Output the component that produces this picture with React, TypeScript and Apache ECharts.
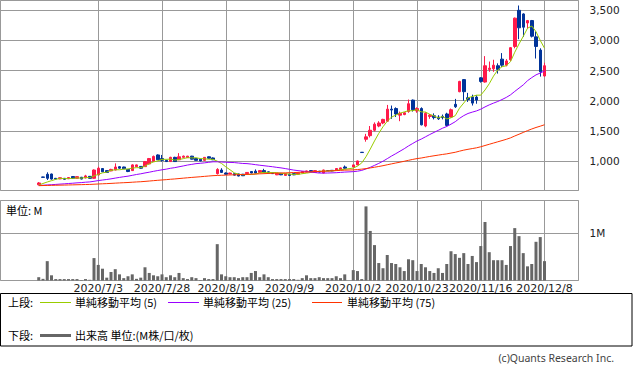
import React, { useEffect, useRef } from "react";
import * as echarts from "echarts";

// Trading days shown (2020), month -> days
const tradingDays: [number, number[]][] = [
  [6, [15, 16, 17, 18, 19, 22, 23, 24, 25, 26, 29, 30]],
  [7, [1, 2, 3, 6, 7, 8, 9, 10, 13, 14, 15, 16, 17, 20, 21, 22, 27, 28, 29, 30, 31]],
  [8, [3, 4, 5, 6, 7, 11, 12, 13, 14, 17, 18, 19, 20, 21, 24, 25, 26, 27, 28, 31]],
  [9, [1, 2, 3, 4, 7, 8, 9, 10, 11, 14, 15, 16, 17, 18, 23, 24, 25, 28, 29, 30]],
  [10, [1, 2, 5, 6, 7, 8, 9, 12, 13, 14, 15, 16, 19, 20, 21, 22, 23, 26, 27, 28, 29, 30]],
  [11, [2, 4, 5, 6, 9, 10, 11, 12, 13, 16, 17, 18, 19, 20, 24, 25, 26, 27, 30]],
  [12, [1, 2, 3, 4, 7, 8]],
];
// date labels shown on the x axis
const tickLabels = ["2020/7/3", "2020/7/28", "2020/8/19", "2020/9/9", "2020/10/2", "2020/10/23", "2020/11/16", "2020/12/8"];

const opens = [
  605, 735, 779, 784, 712, 702, 712, 705, 742, 712,
  730, 718, 745, 712, 768, 875, 840, 835, 850, 905,
  900, 860, 840, 905, 910, 906, 950, 990, 1100, 1040,
  1010, 990, 1060, 1020, 1060, 1055, 1080, 1040, 1030, 1010,
  1070, 1050, 790, 850, 800, 785, 790, 785, 780, 790,
  825, 830, 810, 840, 820, 800, 770, 795, 760, 780,
  790, 780, 800, 815, 840, 810, 830, 800, 840, 845,
  845, 855, 900, null, 900, 935, 1145, 1360, 1420, 1510,
  1580, 1630, 1660, 1860, 1870, 1760, 1770, 1820, 2010, 1830,
  1870, 1580, 1740, 1750, 1730, 1740, 1780, 1730, 1940, 2150,
  2350, 2050, 2060, 2060, 2380, 2310, 2520, 2530, 2580, 2690,
  2590, 2680, 2900, 3500, 3440, 3290, 3330, 3060, 2840, 2410,
];
const closes = [
  635, 728, 712, 700, 700, 722, 696, 725, 712, 740,
  700, 752, 712, 850, 880, 820, 810, 860, 900, 880,
  870, 825, 935, 935, 880, 990, 1040, 1075, 1020, 1010,
  990, 1060, 990, 1070, 1080, 1080, 1030, 1010, 1000, 1060,
  1045, 1020, 860, 810, 780, 800, 765, 750, 755, 810,
  800, 800, 840, 810, 800, 790, 795, 770, 790, 760,
  770, 800, 825, 835, 820, 840, 815, 850, 838, 835,
  875, 885, 880, null, 935, 1000, 1140, 1400, 1510, 1610,
  1630, 1690, 1860, 1845, 1780, 1790, 1800, 1950, 1850, 1870,
  1600, 1790, 1760, 1720, 1700, 1720, 1590, 1850, 1900, 2320,
  2150, 2020, 1960, 2010, 2320, 2580, 2540, 2590, 2520, 2590,
  2660, 2880, 3370, 3210, 3220, 3330, 3070, 2900, 2480, 2580,
];
const lows = [
  598, 724, 685, 690, 692, 698, 688, 700, 705, 708,
  695, 712, 705, 705, 760, 815, 805, 830, 845, 870,
  865, 815, 835, 900, 870, 900, 945, 985, 1015, 990,
  985, 985, 985, 1015, 1055, 1050, 1025, 1005, 995, 1005,
  1040, 1015, 775, 800, 770, 780, 760, 745, 750, 785,
  795, 795, 805, 805, 795, 785, 765, 765, 755, 755,
  765, 775, 795, 810, 815, 800, 810, 795, 835, 830,
  840, 850, 870, null, 895, 930, 1138, 1320, 1390, 1490,
  1560, 1610, 1650, 1700, 1730, 1660, 1760, 1800, 1820, 1800,
  1590, 1560, 1700, 1690, 1680, 1690, 1570, 1720, 1880, 2140,
  2000, 1980, 1920, 1950, 2300, 2300, 2480, 2480, 2450, 2560,
  2570, 2660, 2870, 3020, 3060, 3200, 3050, 2700, 2400, 2400,
];
const highs = [
  650, 738, 812, 790, 718, 728, 716, 730, 748, 745,
  735, 770, 750, 860, 905, 880, 845, 870, 960, 915,
  905, 865, 945, 940, 915, 1000, 1050, 1090, 1110, 1100,
  1020, 1070, 1070, 1130, 1090, 1085, 1085, 1045, 1035, 1065,
  1075, 1060, 880, 880, 810, 805, 795, 790, 785, 815,
  830, 860, 845, 870, 825, 805, 800, 800, 795, 785,
  795, 805, 830, 840, 850, 845, 835, 855, 845, 850,
  880, 890, 925, null, 940, 1005, 1148, 1450, 1580, 1640,
  1660, 1700, 1930, 1920, 1890, 1820, 1810, 2020, 2020, 1890,
  1890, 1810, 1780, 1790, 1760, 1770, 1800, 1870, 2030, 2330,
  2360, 2130, 2100, 2090, 2390, 2740, 2650, 2680, 2620, 2790,
  2690, 2890, 3380, 3580, 3450, 3340, 3340, 3150, 2870, 2630,
];
// volume in millions of shares
const volumes = [
  0.07, 0.035, 0.41, 0.11, 0.03, 0.03, 0.03, 0.03, 0.03, 0.03,
  0.01, 0.03, 0.015, 0.475, 0.33, 0.25, 0.06, 0.18, 0.24, 0.13,
  0.05, 0.09, 0.13, 0.035, 0.06, 0.28, 0.16, 0.11, 0.09, 0.13,
  0.07, 0.11, 0.07, 0.16, 0.05, 0.03, 0.07, 0.05, 0.01, 0.05,
  0.03, 0.03, 0.77, 0.13, 0.09, 0.07, 0.07, 0.05, 0.07, 0.07,
  0.16, 0.2, 0.07, 0.13, 0.07, 0.03, 0.03, 0.03, 0.03, 0.03,
  0.03, 0.015, 0.05, 0.11, 0.05, 0.05, 0.07, 0.05, 0.05, 0.05,
  0.09, 0.05, 0.13, null, 0.22, 0.2, 0.03, 1.57, 1.05, 0.75,
  0.37, 0.26, 0.54, 0.37, 0.35, 0.28, 0.2, 0.45, 0.43, 0.2,
  0.35, 0.28, 0.2, 0.16, 0.26, 0.16, 0.35, 0.62, 0.56, 0.48,
  0.58, 0.35, 0.52, 0.39, 0.73, 1.24, 0.6, 0.43, 0.43, 0.43,
  0.33, 0.73, 1.11, 0.94, 0.58, 0.3, 0.35, 0.82, 0.92, 0.41,
];
// level the long moving averages start from (pre-listing)
const maSeedPrice = 590;
const maPeriods = [5, 25, 75];
const maColors = ["#99cc00", "#9900ff", "#ff3300"];

const PAD_LEFT = 9;
const PAD_RIGHT = 8;
const RED = "#ff1a4a";
const BLUE = "#003399";
const GRID = "#999999";

function movingAverage(n: number): (number | string)[] {
  const valid: number[] = [];
  return closes.map((c) => {
    if (c == null) return "-";
    valid.push(c);
    let sum = 0;
    for (let k = 0; k < n; k++) {
      const j = valid.length - 1 - k;
      sum += j >= 0 ? valid[j] : maSeedPrice;
    }
    return Math.round((sum / n) * 100) / 100;
  });
}

export default function App() {
  const ref = useRef<HTMLDivElement>(null);
  useEffect(() => {
    if (!ref.current) return;
    const chart = echarts.init(ref.current, null, { renderer: "svg" });

    const dates: string[] = [];
    tradingDays.forEach(([m, ds]) => ds.forEach((d) => dates.push(`2020/${m}/${d}`)));
    const cats: string[] = [];
    for (let i = 0; i < PAD_LEFT; i++) cats.push(`_l${i}`);
    dates.forEach((d) => cats.push(d));
    for (let i = 0; i < PAD_RIGHT; i++) cats.push(`_r${i}`);

    const labelSet = new Set(tickLabels);
    const showAt = (_i: number, v: string) => labelSet.has(v);
    const pad = (arr: any[]) => {
      const out: any[] = [];
      for (let i = 0; i < PAD_LEFT; i++) out.push("-");
      arr.forEach((v) => out.push(v));
      for (let i = 0; i < PAD_RIGHT; i++) out.push("-");
      return out;
    };
    const candles = pad(
      opens.map((o, i) =>
        o == null ? ["-", "-", "-", "-"] : [o, closes[i], lows[i], highs[i]]
      )
    );
    const vols = pad(volumes.map((v) => (v == null ? "-" : v)));

    const jp = '"Noto Sans CJK JP", "Noto Sans", sans-serif';
    const legendText = (x: number, y: number, text: string) => ({
      type: "text",
      x,
      y,
      silent: true,
      style: { text, fontSize: 11, fontFamily: jp, fill: "#000", verticalAlign: "middle", align: "left" },
    });
    const legendLine = (x1: number, x2: number, y: number, color: string, w: number) => ({
      type: "line",
      silent: true,
      shape: { x1, y1: y, x2, y2: y },
      style: { stroke: color, lineWidth: w },
    });

    const option: any = {
      animation: false,
      backgroundColor: "#ffffff",
      textStyle: { fontFamily: "DejaVu Sans" },
      grid: [
        { left: 0.5, top: 0.5, width: 578, height: 190, show: true, borderColor: GRID, borderWidth: 1 },
        { left: 0.5, top: 200.5, width: 578, height: 80, show: true, borderColor: GRID, borderWidth: 1 },
      ],
      xAxis: [
        {
          type: "category",
          gridIndex: 0,
          data: cats,
          boundaryGap: false,
          axisLine: { show: false },
          axisTick: { show: false },
          axisLabel: { show: false },
          splitLine: { show: true, interval: showAt, lineStyle: { color: GRID, width: 1 } },
        },
        {
          type: "category",
          gridIndex: 1,
          data: cats,
          boundaryGap: false,
          axisLine: { show: false },
          axisTick: { show: false },
          axisLabel: { show: true, interval: showAt, margin: 2, fontSize: 11, color: "#222" },
          splitLine: { show: true, interval: showAt, lineStyle: { color: GRID, width: 1 } },
        },
      ],
      yAxis: [
        {
          type: "value",
          gridIndex: 0,
          position: "right",
          min: 510,
          max: 3663,
          splitNumber: 5,
          axisLine: { show: false },
          axisTick: { show: false },
          axisLabel: {
            margin: 11,
            fontSize: 10.5,
            color: "#222",
            showMinLabel: false,
            showMaxLabel: false,
            formatter: (v: number) => v.toLocaleString("en-US"),
          },
          splitLine: { show: true, lineStyle: { color: GRID, width: 1 } },
        },
        {
          type: "value",
          gridIndex: 1,
          position: "right",
          min: 0,
          max: 1.695,
          interval: 1,
          axisLine: { show: false },
          axisTick: { show: false },
          axisLabel: {
            margin: 11,
            fontSize: 10.5,
            color: "#222",
            showMinLabel: false,
            showMaxLabel: false,
            formatter: (v: number) => (v === 1 ? "1M" : ""),
          },
          splitLine: { show: true, lineStyle: { color: GRID, width: 1 } },
        },
      ],
      series: [
        {
          type: "candlestick",
          xAxisIndex: 0,
          yAxisIndex: 0,
          data: candles,
          barWidth: 3,
          silent: true,
          itemStyle: { color: RED, color0: BLUE, borderColor: RED, borderColor0: BLUE, borderWidth: 1 },
          z: 2,
        },
        ...maPeriods.map((n, k) => ({
          type: "line",
          xAxisIndex: 0,
          yAxisIndex: 0,
          data: pad(movingAverage(n)),
          symbol: "none",
          connectNulls: true,
          silent: true,
          lineStyle: { color: maColors[k], width: 1 },
          z: 3,
        })),
        {
          type: "bar",
          xAxisIndex: 1,
          yAxisIndex: 1,
          data: vols,
          barWidth: 3,
          silent: true,
          itemStyle: { color: "#666666" },
        },
      ],
      graphic: [
        {
          type: "rect",
          silent: true,
          shape: { x: 0.5, y: 293.5, width: 631.5, height: 52.5 },
          style: { fill: "none", stroke: "#000", lineWidth: 1 },
        },
        legendText(8, 302, "上段:"),
        legendLine(40, 71, 302.5, maColors[0], 1),
        legendText(75, 302, "単純移動平均 (5)"),
        legendLine(168, 199, 302.5, maColors[1], 1),
        legendText(203, 302, "単純移動平均 (25)"),
        legendLine(312, 342, 302.5, maColors[2], 1),
        legendText(347, 302, "単純移動平均 (75)"),
        legendText(8, 335, "下段:"),
        legendLine(40, 71, 335.5, "#666666", 3),
        legendText(75, 335, "出来高 単位:(M株/口/枚)"),
        legendText(6, 210, "単位: M"),
        {
          type: "text",
          x: 614,
          y: 358,
          silent: true,
          style: {
            text: "(c)Quants Research Inc.",
            fontSize: 10.5,
            fontFamily: '"Noto Sans", sans-serif',
            fill: "#444",
            align: "right",
            verticalAlign: "middle",
          },
        },
      ],
    };
    chart.setOption(option);
    return () => chart.dispose();
  }, []);

  return (
    <div
      ref={ref}
      style={{ position: "absolute", left: 0, top: 0, width: 633, height: 373 }}
    />
  );
}
